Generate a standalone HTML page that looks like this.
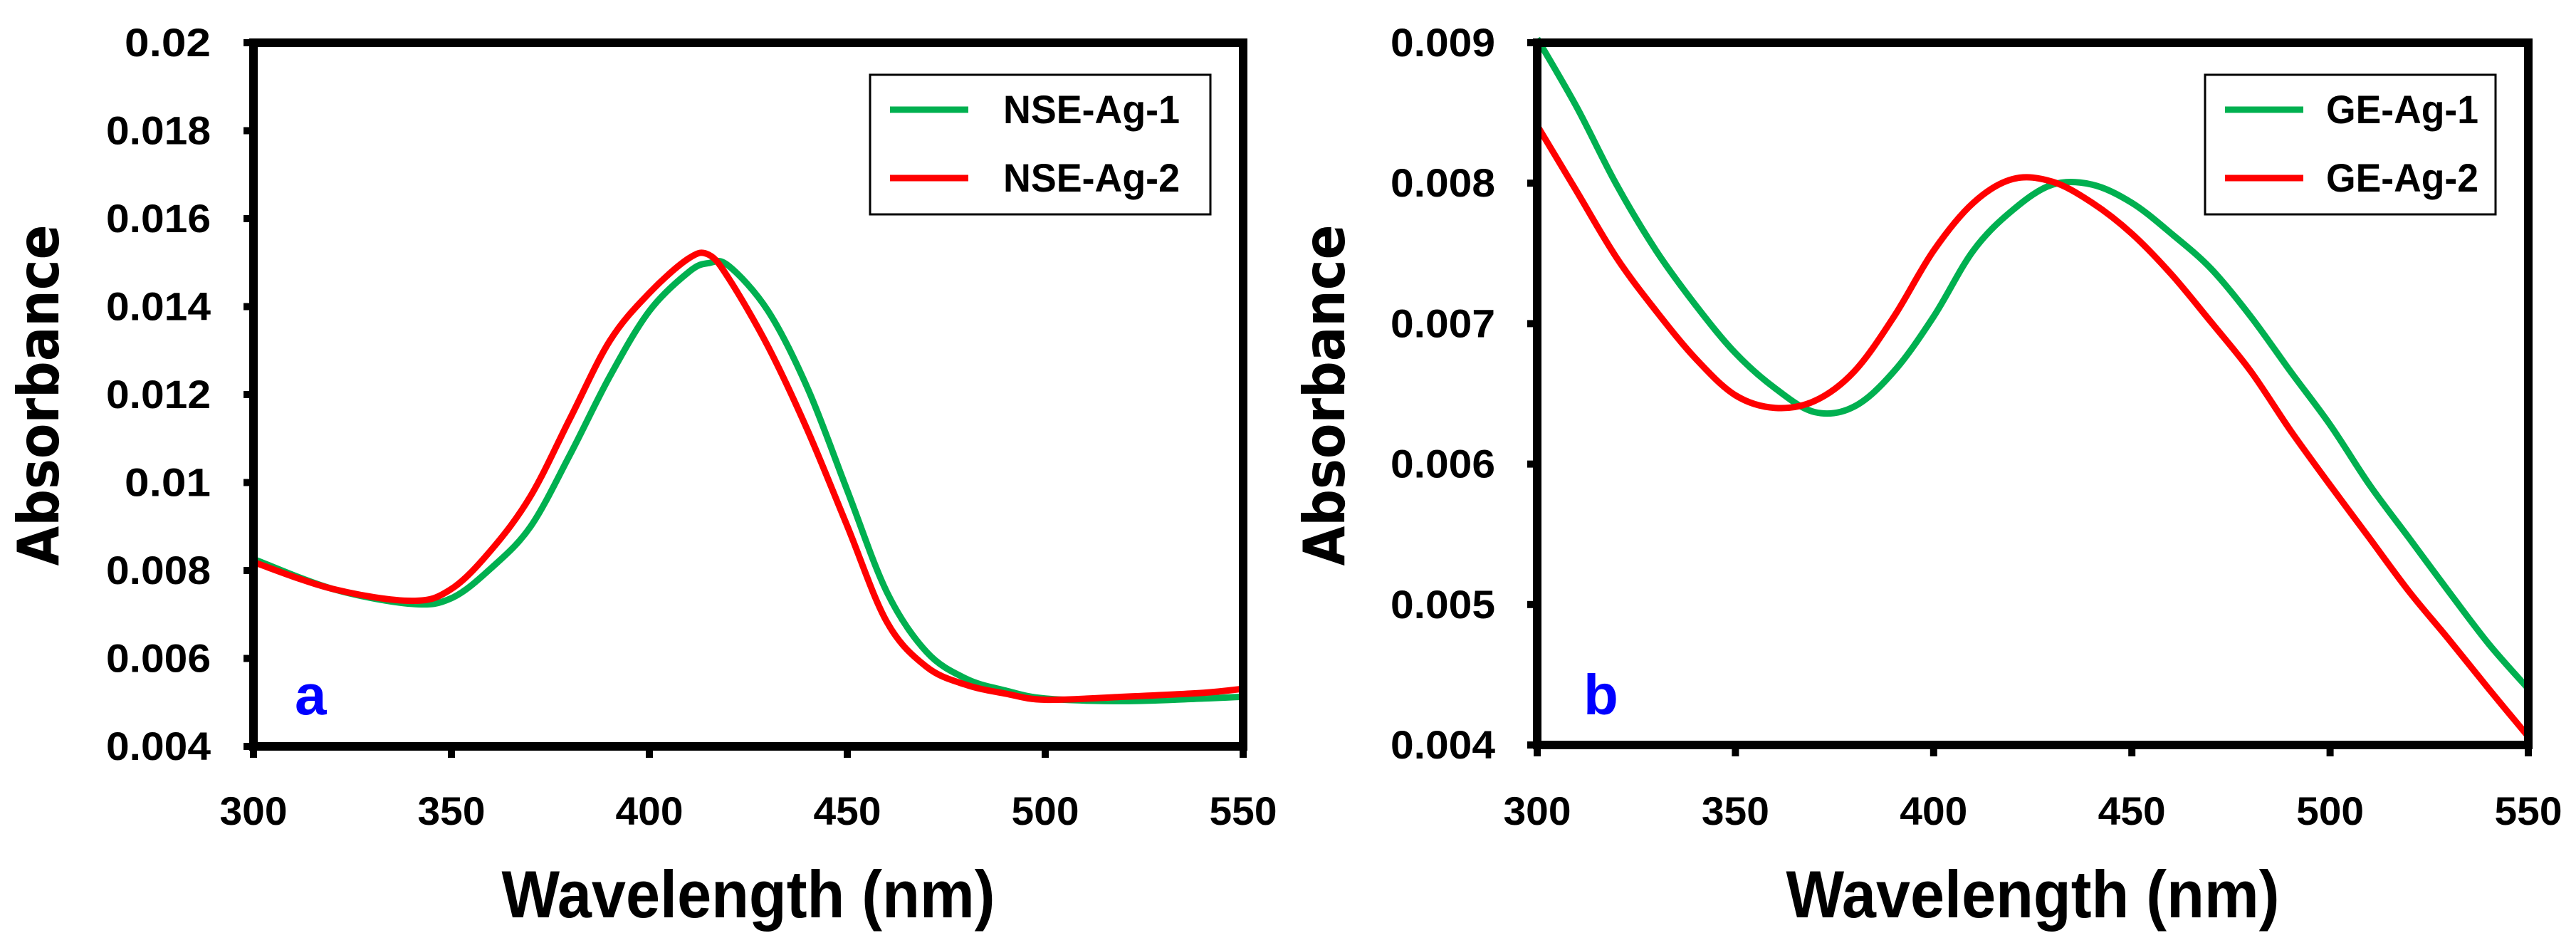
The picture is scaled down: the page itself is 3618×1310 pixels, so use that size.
<!DOCTYPE html>
<html><head><meta charset="utf-8"><style>
html,body{margin:0;padding:0;background:#fff;}
svg{display:block;}
text{font-family:"Liberation Sans",sans-serif;}
</style></head><body>
<svg id="fig" width="3618" height="1310" viewBox="0 0 3618 1310" xmlns="http://www.w3.org/2000/svg"></svg>
<script>
const xTicks = [300, 350, 400, 450, 500, 550];
const yTicksA = [0.004, 0.006, 0.008, 0.01, 0.012, 0.014, 0.016, 0.018, 0.02];
const yLabelsA = ["0.004","0.006","0.008","0.01","0.012","0.014","0.016","0.018","0.02"];
const yTicksB = [0.004, 0.005, 0.006, 0.007, 0.008, 0.009];
const yLabelsB = ["0.004","0.005","0.006","0.007","0.008","0.009"];

const wlA = [300,320,340,350,360,370,380,390,400,410,415,420,430,440,450,460,470,480,490,500,520,540,550];
const nse1 = [0.00826,0.00758,0.00724,0.00737,0.00805,0.009,0.01064,0.01241,0.0139,0.01479,0.01499,0.01493,0.0139,0.01214,0.00982,0.00751,0.00615,0.00554,0.00527,0.00509,0.00503,0.00509,0.00513];
const nse2 = [0.00819,0.00758,0.00731,0.00758,0.00846,0.00969,0.01146,0.01322,0.01431,0.0151,0.01518,0.01465,0.01309,0.01118,0.00901,0.00683,0.00581,0.0054,0.0052,0.00506,0.00513,0.00522,0.00531];

const wlB = [300,310,320,330,340,350,360,370,380,390,400,410,420,430,440,450,460,470,480,490,500,510,520,530,540,550];
const ge1 = [0.00903,0.00854,0.00799,0.00752,0.00713,0.00679,0.00654,0.00637,0.00641,0.00666,0.00705,0.00752,0.00781,0.00799,0.00799,0.00786,0.00764,0.00739,0.00705,0.00666,0.00628,0.00585,0.00547,0.00509,0.00472,0.0044];
const ge2 = [0.00841,0.00794,0.00747,0.00709,0.00675,0.00649,0.0064,0.00645,0.00666,0.00705,0.00752,0.00786,0.00803,0.00801,0.00786,0.00764,0.00735,0.00701,0.00666,0.00624,0.00585,0.00547,0.00509,0.00475,0.0044,0.00406];

const NS="http://www.w3.org/2000/svg";
const svg=document.getElementById('fig');
function el(tag,attrs,parent){const e=document.createElementNS(NS,tag);for(const k in attrs)e.setAttribute(k,attrs[k]);(parent||svg).appendChild(e);return e;}

function smoothPath(pts){
  let d="M"+pts[0][0].toFixed(1)+","+pts[0][1].toFixed(1);
  for(let i=0;i<pts.length-1;i++){
    const p0=pts[Math.max(i-1,0)],p1=pts[i],p2=pts[i+1],p3=pts[Math.min(i+2,pts.length-1)];
    const c1=[p1[0]+(p2[0]-p0[0])/6,p1[1]+(p2[1]-p0[1])/6];
    const c2=[p2[0]-(p3[0]-p1[0])/6,p2[1]-(p3[1]-p1[1])/6];
    d+=" C"+c1[0].toFixed(1)+","+c1[1].toFixed(1)+" "+c2[0].toFixed(1)+","+c2[1].toFixed(1)+" "+p2[0].toFixed(1)+","+p2[1].toFixed(1);
  }
  return d;
}
function tl(str,perChar){return String(str).length*perChar;}

function panel(cfg){
  const g=el('g',{});
  
  
  const L=cfg.L,R=cfg.R,T=cfg.T,B=cfg.B;
  const xs=v=>L+(v-300)/(550-300)*(R-L);
  const ys=v=>B-(v-cfg.ymin)/(cfg.ymax-cfg.ymin)*(B-T);
  const cid='clip-'+cfg.name;
  const cp=el('clipPath',{id:cid},g);
  el('rect',{x:L,y:T-10,width:R-L,height:B-T+10},cp);
  cfg.series.forEach(s=>{
    const pts=cfg.wl.map((w,i)=>[xs(w),ys(s.vals[i])]);
    const p=el('path',{d:smoothPath(pts),fill:'none',stroke:s.color,'stroke-width':9,'stroke-linejoin':'round','clip-path':'url(#'+cid+')'},g);
    
    
  });
  const fr=el('rect',{x:L,y:T,width:R-L,height:B-T,fill:'none',stroke:'#000','stroke-width':12},g);
  
  
  cfg.yt.forEach((v,i)=>{
    const y=ys(v);
    const t=el('line',{x1:L-14,x2:L,y1:y,y2:y,stroke:'#000','stroke-width':10},g);
    
    
    const s=cfg.yl[i];
    const w=s.length*26+ (s.length>4?17:17);
    const tx=el('text',{x:cfg.labelX,y:y+19,'text-anchor':'end','font-size':56,'font-weight':'bold',fill:'#000',textLength:w,lengthAdjust:'spacingAndGlyphs'},g);
    tx.textContent=s;
    
    
  });
  xTicks.forEach(v=>{
    const x=xs(v);
    const t=el('line',{x1:x,x2:x,y1:B,y2:B+16,stroke:'#000','stroke-width':10},g);
    
    
    const tx=el('text',{x:x,y:1158,'text-anchor':'middle','font-size':56,'font-weight':'bold',fill:'#000',textLength:95,lengthAdjust:'spacingAndGlyphs'},g);
    tx.textContent=v;
    
    
  });
  const xt=el('text',{x:(L+R)/2,y:1288,'text-anchor':'middle','font-size':94,'font-weight':'bold',fill:'#000',textLength:693,lengthAdjust:'spacingAndGlyphs'},g);
  xt.textContent='Wavelength (nm)';
  
  
  const yt=el('text',{x:0,y:0,'text-anchor':'middle','font-size':80,'font-weight':'bold',fill:'#000',textLength:479,lengthAdjust:'spacingAndGlyphs',transform:'translate('+(cfg.ytX)+',555) rotate(-90)',style:'font-family:"DejaVu Sans",sans-serif'},g);
  yt.textContent='Absorbance';
  
  
  const lg=el('g',{},g);
  
  
  el('rect',{x:cfg.lgX,y:105,width:cfg.lgW,height:196,fill:'#fff',stroke:'#000','stroke-width':3},lg);
  cfg.series.forEach((s,i)=>{
    const y=154+i*96;
    const e=el('g',{},lg);
    
    
    el('line',{x1:cfg.lgX+28,x2:cfg.lgX+138,y1:y,y2:y,stroke:s.color,'stroke-width':9},e);
    const t=el('text',{x:cfg.lgX+cfg.txOff,y:y+19,'font-size':56,'font-weight':'bold',fill:'#000',textLength:cfg.lgTL,lengthAdjust:'spacingAndGlyphs'},e);
    t.textContent=s.label;
  });
  const pl=el('text',{x:cfg.tagX,y:1003,'font-size':80,'font-weight':'bold',fill:'#0000ff'},g);
  pl.textContent=cfg.tag;
  
  
}

panel({name:'chart-a',L:356,R:1746,T:60,B:1048,ymin:0.004,ymax:0.02,yt:yTicksA,yl:yLabelsA,labelX:296,ytX:82,
  wl:wlA,series:[{key:'nse-ag-1',label:'NSE-Ag-1',color:'#00b050',vals:nse1},{key:'nse-ag-2',label:'NSE-Ag-2',color:'#ff0000',vals:nse2}],
  lgX:1222,lgW:478,txOff:187,lgTL:248,tag:'a',tagX:414});
panel({name:'chart-b',L:2159,R:3551,T:60,B:1046,ymin:0.004,ymax:0.009,yt:yTicksB,yl:yLabelsB,labelX:2100,ytX:1888,
  wl:wlB,series:[{key:'ge-ag-1',label:'GE-Ag-1',color:'#00b050',vals:ge1},{key:'ge-ag-2',label:'GE-Ag-2',color:'#ff0000',vals:ge2}],
  lgX:3097,lgW:408,txOff:170,lgTL:214,tag:'b',tagX:2224});
</script>
</body></html>
